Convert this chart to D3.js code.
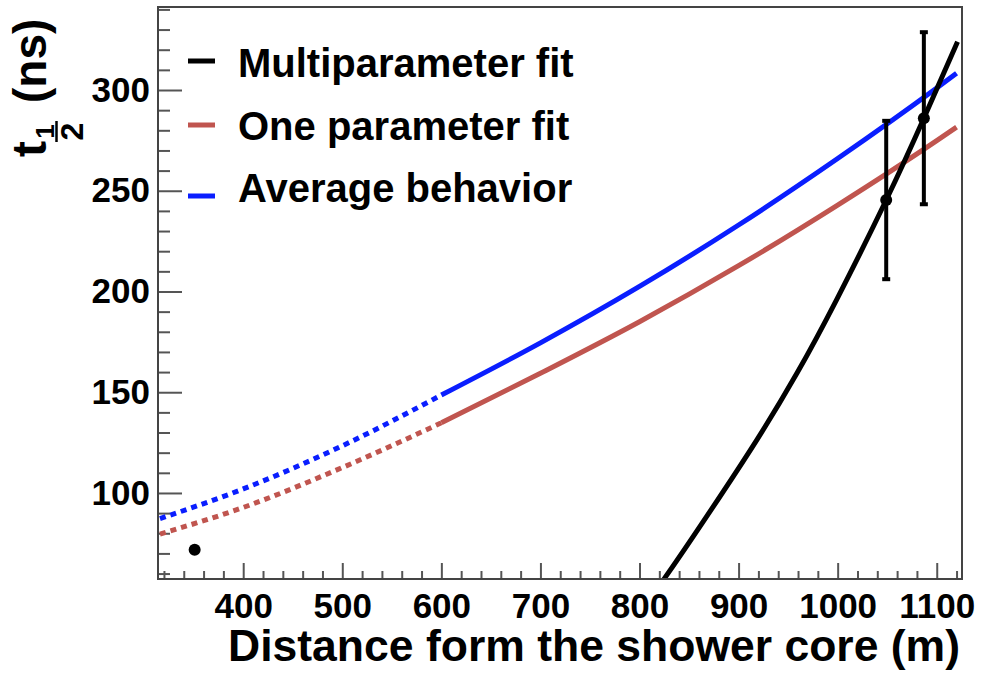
<!DOCTYPE html>
<html><head><meta charset="utf-8">
<script src="https://cdn.jsdelivr.net/npm/d3@7"></script>
<style>
html,body{margin:0;padding:0;background:#fff;}
text{font-family:"Liberation Sans",Arial,Helvetica,sans-serif;font-weight:bold;fill:#000;}
</style></head>
<body><svg id="c" width="981" height="673"></svg>
<script>
// ---- data ----
const avgDottedX = [316, 400, 500, 600];
const avgDottedY = [87.3, 102.0, 123.4, 148.6];
const avgSolidX = [600, 700, 800, 900, 1000, 1100, 1120];
const avgSolidY = [148.6, 174.5, 202.5, 233.0, 266.0, 301.0, 308.3];
const oneDottedX = [316, 400, 500, 600];
const oneDottedY = [79.6, 92.8, 112.6, 134.8];
const oneSolidX = [600, 700, 800, 900, 1000, 1100, 1120];
const oneSolidY = [134.8, 159.4, 185.0, 212.8, 242.9, 274.9, 281.6];
const multiX = [805, 825, 868, 918, 959, 999, 1049, 1087, 1121];
const multiY = [45.0, 57.5, 88.5, 126.0, 159.5, 196.0, 245.4, 286.0, 324.0];
const pointsX = [351, 1049, 1087];
const pointsY = [71.8, 245.4, 286.0];
const pointsErr = [0, 39.3, 42.7];
const xMajorTicks = [400, 500, 600, 700, 800, 900, 1000, 1100];
const yMajorTicks = [100, 150, 200, 250, 300];
const legendLabels = ["Multiparameter fit", "One parameter fit", "Average behavior"];
const legendColors = ["#000000", "#c0554f", "#0a1eff"];

const svg = d3.select("#c");
const L = 158, R = 962, T = 7, B = 579;
const x = d3.scaleLinear().domain([314, 1125.5]).range([L, R]);
const y = d3.scaleLinear().domain([57.3, 341.2]).range([B, T]);

const xMinor = d3.range(320, 1125, 20).filter(v => v % 100 !== 0);
const yMinor = d3.range(60, 341, 10).filter(v => v % 50 !== 0);

svg.append("defs").append("clipPath").attr("id", "clip")
  .append("rect").attr("x", L).attr("y", T).attr("width", R - L).attr("height", B - T);

// axes
const gx = svg.append("g").attr("transform", `translate(0,${B})`);
gx.call(d3.axisBottom(x).tickValues(xMinor).tickSize(-8).tickFormat(""));
gx.call(g => g.select(".domain").remove());
const gx2 = svg.append("g").attr("transform", `translate(0,${B})`);
gx2.call(d3.axisBottom(x).tickValues(xMajorTicks).tickSize(-16).tickPadding(12).tickFormat(d3.format("d")));
gx2.select(".domain").remove();
gx2.selectAll("text").attr("font-size", 35).attr("dy", "0.71em").attr("y", 14);

const gy = svg.append("g").attr("transform", `translate(${L},0)`);
gy.call(d3.axisLeft(y).tickValues(yMinor).tickSize(-12).tickFormat(""));
gy.select(".domain").remove();
const gy2 = svg.append("g").attr("transform", `translate(${L},0)`);
gy2.call(d3.axisLeft(y).tickValues(yMajorTicks).tickSize(-24).tickPadding(8).tickFormat(d3.format("d")));
gy2.select(".domain").remove();
gy2.selectAll("text").attr("font-size", 35);
svg.selectAll(".tick line").attr("stroke", "#555").attr("stroke-width", 2);

// curves
const plot = svg.append("g").attr("clip-path", "url(#clip)");
function draw(xs, ys, color, dash, curve) {
  const line = d3.line().x(d => x(d[0])).y(d => y(d[1])).curve(curve || d3.curveMonotoneX);
  plot.append("path").datum(xs.map((v, i) => [v, ys[i]]))
    .attr("d", line).attr("fill", "none").attr("stroke", color)
    .attr("stroke-width", 5).attr("stroke-dasharray", dash || null);
}
draw(avgDottedX, avgDottedY, legendColors[2], "6,5");
draw(oneDottedX, oneDottedY, legendColors[1], "6,5");
draw(avgSolidX, avgSolidY, legendColors[2]);
draw(oneSolidX, oneSolidY, legendColors[1]);
draw(multiX, multiY, legendColors[0], null, d3.curveNatural);

// points with error bars
pointsX.forEach((px, i) => {
  const e = pointsErr[i];
  if (e > 0) {
    plot.append("line").attr("x1", x(px)).attr("x2", x(px))
      .attr("y1", y(pointsY[i] - e)).attr("y2", y(pointsY[i] + e))
      .attr("stroke", "#000").attr("stroke-width", 4);
    [pointsY[i] - e, pointsY[i] + e].forEach(v => {
      plot.append("line").attr("x1", x(px) - 4).attr("x2", x(px) + 4)
        .attr("y1", y(v)).attr("y2", y(v)).attr("stroke", "#000").attr("stroke-width", 4);
    });
  }
  plot.append("circle").attr("cx", x(px)).attr("cy", y(pointsY[i])).attr("r", 6).attr("fill", "#000");
});

// frame
svg.append("rect").attr("x", L).attr("y", T).attr("width", R - L).attr("height", B - T)
  .attr("fill", "none").attr("stroke", "#444").attr("stroke-width", 2);

// legend
const legY = [61, 125, 196];
const txtY = [77, 140, 202];
legendLabels.forEach((lab, i) => {
  svg.append("line").attr("x1", 188).attr("x2", 215).attr("y1", legY[i]).attr("y2", legY[i])
    .attr("stroke", legendColors[i]).attr("stroke-width", 5);
  svg.append("text").attr("x", 238).attr("y", txtY[i]).attr("font-size", 40).text(lab);
});

// x title
svg.append("text").attr("x", 960).attr("y", 661).attr("text-anchor", "end")
  .attr("font-size", 44.5).text("Distance form the shower core (m)");

// y title: t_{1/2} (ns)
const yt = svg.append("g").attr("transform", "translate(46,157) rotate(-90)");
yt.append("text").attr("x", 0).attr("y", 0).attr("font-size", 48).text("t");
yt.append("text").attr("x", 25.5).attr("y", 8).attr("font-size", 26).attr("text-anchor", "middle").text("1");
yt.append("line").attr("x1", 15).attr("x2", 36).attr("y1", 10.5).attr("y2", 10.5).attr("stroke", "#000").attr("stroke-width", 2.5);
yt.append("text").attr("x", 25.5).attr("y", 37).attr("font-size", 32).attr("text-anchor", "middle").text("2");
yt.append("text").attr("x", 54).attr("y", 0).attr("font-size", 46).text("(ns)");
</script></body></html>
